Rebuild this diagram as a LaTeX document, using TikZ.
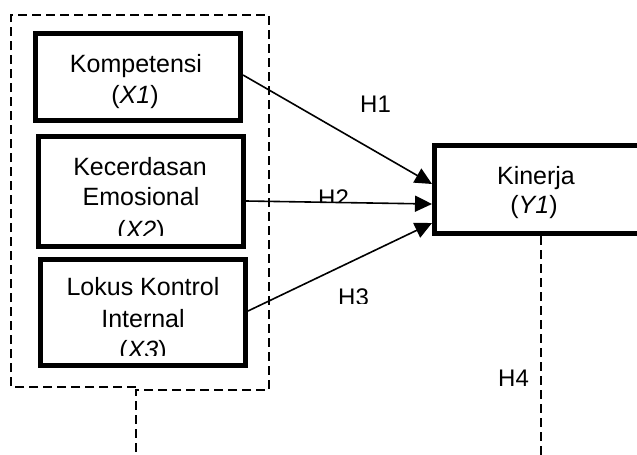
\documentclass[tikz,border=0pt]{standalone}
\usepackage{fontspec}
\setmainfont{Liberation Sans}
\usetikzlibrary{arrows.meta}

\begin{document}
\begin{tikzpicture}[x=1pt,y=-1pt,
  box/.style={draw, line width=5pt, inner sep=0pt},
  dashline/.style={line width=1.7pt, dash pattern=on 9pt off 5pt},
  arr/.style={line width=1.6pt, -{Triangle[length=17pt,width=16pt]}},
  txt/.style={anchor=base, inner sep=0pt, font=\fontsize{25}{30}\selectfont},
  lab/.style={anchor=base west, inner sep=0pt, font=\fontsize{24}{28}\selectfont}]
\useasboundingbox (0,0) rectangle (637,455);

% variable boxes
\node[box, minimum width=205.5pt, minimum height=87pt]   (b1)  at (137.75,77)   {};
\node[box, minimum width=205pt,   minimum height=109.5pt] (b2) at (141,191.25)  {};
\node[box, minimum width=205pt,   minimum height=106pt]  (b3)  at (143,312.5)   {};
\node[box, minimum width=206.5pt, minimum height=88pt]   (kin) at (537.75,189.5) {};

% box texts
\node[txt] (t1a) at (136,72)  {Kompetensi};
\node[txt] (t1b) at (135,103) {(\textit{X1})};
\begin{scope}
  \clip (38,136) rectangle (244,235);
  \node[txt] (t2a) at (140,175) {Kecerdasan};
  \node[txt] (t2b) at (141,205) {Emosional};
  \node[txt] (t2c) at (141,238) {(\textit{X2})};
\end{scope}
\begin{scope}
  \clip (40,259) rectangle (246,355);
  \node[txt] (t3a) at (143,295) {Lokus Kontrol};
  \node[txt] (t3b) at (143,327) {Internal};
  \node[txt] (t3c) at (143,358) {(\textit{X3})};
\end{scope}
\node[txt] (tya) at (536,184) {Kinerja};
\node[txt] (tyb) at (534,213) {(\textit{Y1})};

% hypothesis arrows
\draw[arr] ([yshift=2pt]b1.east)    -- ([yshift=5.5pt]kin.west);
\draw[arr] ([yshift=-9.75pt]b2.east) -- ([yshift=-14.5pt]kin.west);
\draw[arr] ([yshift=1.5pt]b3.east)  -- ([yshift=-33.5pt]kin.west);

% hypothesis labels
\node[lab] (h1) at (360,112) {H1};
\begin{scope}
  \clip (300,180) rectangle (360,202);
  \node[lab] (h2) at (318,206) {H2};
\end{scope}
\begin{scope}
  \clip (330,280) rectangle (380,303);
  \node[lab] (h3) at (338,305) {H3};
\end{scope}
\node[lab] (h4) at (498,386) {H4};

% dashed grouping frame and its downward leads
\coordinate (g1) at (136,387);
\coordinate (g2) at (136,390);
\coordinate (e1) at (136,455);
\coordinate (e2) at (541,455);
\draw[dashline] (g1) -- (11,387) -- (11,15) -- (269,15) -- (269,390) -- (g2) -- (e1);
\draw[dashline] ([xshift=3.25pt]kin.south) -- (e2);
\end{tikzpicture}
\end{document}
